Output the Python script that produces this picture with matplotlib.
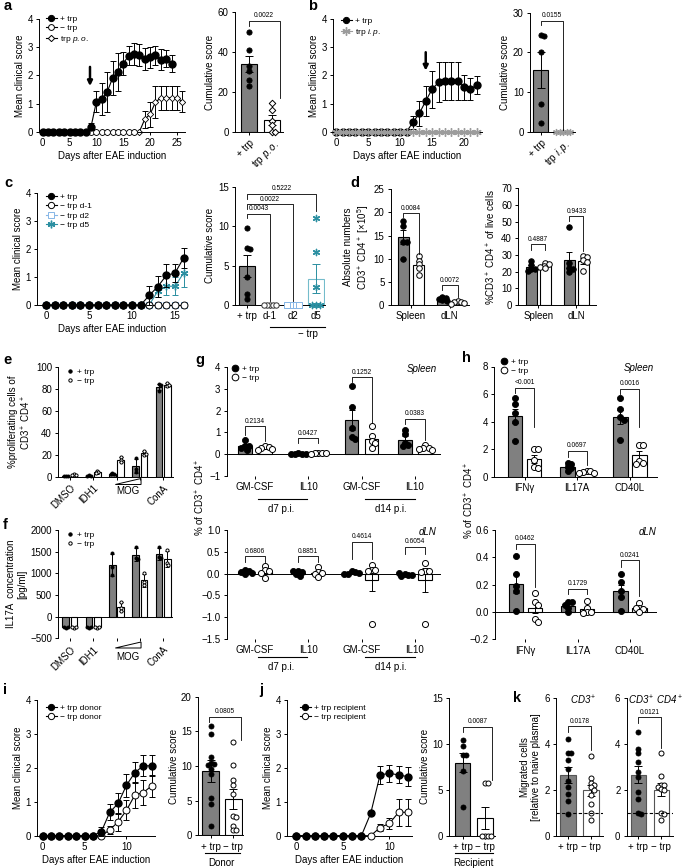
import numpy as np
import matplotlib
matplotlib.use("Agg")
import matplotlib.pyplot as plt
from matplotlib import transforms
from matplotlib.lines import Line2D
from matplotlib.patches import Polygon

plt.rcParams["font.family"] = "Liberation Sans"
plt.rcParams["mathtext.fontset"] = "custom"
plt.rcParams["mathtext.rm"] = "Liberation Sans"
plt.rcParams["mathtext.it"] = "Liberation Sans:italic"
plt.rcParams["mathtext.bf"] = "Liberation Sans:bold"
plt.rcParams["font.size"] = 7
plt.rcParams["axes.linewidth"] = 0.7
plt.rcParams["axes.labelpad"] = 2

GREY = "#808080"
LBLUE = "#86b6e6"
TEAL = "#2b8fa1"
LTEAL = "#74bccb"
SGREY = "#9c9c9c"
ASTER = (6, 2, 0)
MINUS = "\u2212"

# ---------------- data ----------------
# a
a_days = list(range(25))
a_trp = [0] * 9 + [0.18, 1.07, 1.17, 1.41, 1.90, 2.13, 2.42, 2.70, 2.76, 2.72, 2.58, 2.64, 2.71, 2.55, 2.59, 2.41]
a_trp_err = [0] * 9 + [0.12, 0.37, 0.57, 0.70, 0.60, 0.67, 0.42, 0.34, 0.38, 0.39, 0.40, 0.38, 0.33, 0.37, 0.31, 0.30]
a_notrp_days = list(range(18))
a_notrp = [0] * 18
a_po_days = list(range(27))
a_po = [0] * 19 + [0.44, 0.62, 1.05, 1.20, 1.20, 1.20, 1.20, 1.07]
a_po_err = [0] * 19 + [0.30, 0.45, 0.57, 0.42, 0.42, 0.42, 0.42, 0.36]
a_cum_mean = [33.9, 5.75]
a_cum_err = [4.0, 2.4]
a_cum_trp = [50.0, 41.0, 33.2, 30.5, 25.8, 22.8]
a_cum_po = [14.6, 10.9, 5.5, 3.5, 0.0, 0.0]

# b
b_days = list(range(23))
b_trp = [0] * 12 + [0.33, 0.65, 1.09, 1.51, 1.75, 1.80, 1.80, 1.80, 1.57, 1.51, 1.66]
b_trp_err = [0] * 12 + [0.23, 0.44, 0.54, 0.66, 0.71, 0.66, 0.66, 0.66, 0.44, 0.38, 0.32]
b_ip = [0] * 23
b_cum_mean = [15.5, 0.0]
b_cum_err = [4.5, 0.0]
b_cum_trp = [24.4, 24.0, 20.0, 7.1, 2.1]
b_cum_ip = [0, 0, 0, 0, 0]

# c
c_days = list(range(17))
c_trp = [0] * 12 + [0.34, 0.66, 1.06, 1.14, 1.68]
c_trp_err = [0] * 12 + [0.34, 0.36, 0.41, 0.33, 0.36]
c_d1 = [0] * 17
c_d2 = [0] * 17
c_d5 = [0] * 13 + [0.50, 0.67, 0.67, 1.14]
c_d5_err = [0] * 13 + [0.22, 0.33, 0.33, 0.48]
c_cum_labels = ["+ trp", "d-1", "d2", "d5"]
c_cum_mean = [4.94, 0.0, 0.0, 3.33]
c_cum_err = [1.38, 0.0, 0.0, 1.85]
c_cum_trp = [9.7, 7.2, 7.1, 3.5, 1.4, 0.7]
c_cum_d1 = [0, 0, 0, 0, 0]
c_cum_d2 = [0, 0, 0, 0, 0]
c_cum_d5 = [11.0, 6.7, 2.3, 0, 0, 0]

# d
d_groups = ["Spleen", "dLN"]
d_abs_plus_mean = [14.6, 1.3]
d_abs_plus_err = [1.5, 0.2]
d_abs_minus_mean = [8.7, 0.6]
d_abs_minus_err = [0.8, 0.12]
d_abs_plus_pts = [[18.2, 17.1, 13.7, 13.6, 10.0], [1.8, 1.5, 1.3, 1.0, 0.9]]
d_abs_minus_pts = [[10.6, 9.6, 8.9, 8.0, 6.4], [0.9, 0.7, 0.6, 0.4, 0.3]]
d_pct_plus_mean = [22.8, 27.0]
d_pct_plus_err = [1.2, 4.6]
d_pct_minus_mean = [23.6, 26.4]
d_pct_minus_err = [0.6, 1.6]
d_pct_plus_pts = [[26.6, 24.0, 21.6, 21.6, 20.2], [46.6, 25.0, 22.0, 21.6, 20.0]]
d_pct_minus_pts = [[25.2, 24.4, 23.6, 23.0, 22.0], [29.6, 29.0, 27.0, 26.0, 20.6]]

# e
e_groups = ["DMSO", "IDH1", "", "", "ConA"]
e_plus_mean = [0.5, 1.0, 2.7, 9.5, 82.0]
e_plus_err = [0.2, 0.4, 0.8, 6.5, 3.0]
e_minus_mean = [2.0, 4.2, 15.5, 21.5, 84.0]
e_minus_err = [0.5, 1.3, 2.5, 2.0, 1.8]
e_plus_pts = [[0.6, 0.5, 0.3], [1.4, 0.8, 0.8], [3.5, 2.5, 2.1], [17.5, 7.0, 4.0], [78.0, 84.5, 83.5]]
e_minus_pts = [[2.5, 1.8, 1.7], [5.5, 4.0, 3.0], [18.2, 15.0, 13.3], [23.8, 20.0, 20.8], [86.0, 83.0, 83.5]]

# f
f_plus_mean = [-245, -245, 1190, 1425, 1445]
f_plus_err = [12, 12, 255, 150, 135]
f_minus_mean = [-245, -245, 230, 845, 1320]
f_minus_err = [10, 10, 105, 150, 185]
f_plus_pts = [[-255, -245, -238], [-255, -245, -238], [1460, 1155, 955], [1615, 1345, 1320], [1610, 1380, 1350]]
f_minus_pts = [[-255, -247, -240], [-255, -248, -240], [345, 210, 135], [1015, 800, 720], [1535, 1230, 1195]]

# g
g_groups = ["GM-CSF", "IL10", "GM-CSF", "IL10"]
g_spl_plus_mean = [0.38, 0.01, 1.58, 0.66]
g_spl_plus_err = [0.07, 0.01, 0.45, 0.15]
g_spl_minus_mean = [0.28, 0.04, 0.71, 0.28]
g_spl_minus_err = [0.03, 0.01, 0.17, 0.04]
g_spl_plus_pts = [[0.63, 0.35, 0.35, 0.28, 0.20], [0.03, 0.02, 0.01, 0.0, 0.0],
                  [3.12, 2.15, 1.20, 0.78, 0.70], [1.12, 0.92, 0.50, 0.43, 0.35]]
g_spl_minus_pts = [[0.35, 0.32, 0.28, 0.25, 0.20], [0.06, 0.05, 0.04, 0.03, 0.02],
                   [1.28, 0.85, 0.60, 0.50, 0.30], [0.40, 0.30, 0.27, 0.22, 0.20]]
g_dln_plus_mean = [0.04, 0.02, 0.02, -0.02]
g_dln_plus_err = [0.02, 0.02, 0.01, 0.01]
g_dln_minus_mean = [0.04, 0.02, -0.15, -0.15]
g_dln_minus_err = [0.04, 0.04, 0.25, 0.27]
g_dln_plus_pts = [[0.08, 0.05, 0.03, 0.02, -0.02], [0.07, 0.03, 0.0, -0.05, 0.05],
                  [0.05, 0.03, 0.0, 0.02, -0.01], [0.0, -0.03, -0.05, 0.02, -0.04]]
g_dln_minus_pts = [[0.17, 0.08, 0.06, 0.02, -0.09], [0.14, 0.04, 0.02, 0.0, -0.08],
                   [0.19, 0.09, 0.08, 0.06, -1.15], [0.25, 0.06, 0.06, 0.04, -1.15]]

# h
h_groups = ["IFN\u03b3", "IL17A", "CD40L"]
h_spl_plus_mean = [4.40, 0.73, 4.34]
h_spl_plus_err = [0.50, 0.10, 0.50]
h_spl_minus_mean = [1.30, 0.35, 1.54]
h_spl_minus_err = [0.28, 0.04, 0.30]
h_spl_plus_pts = [[5.7, 5.3, 4.6, 4.0, 2.6], [1.0, 0.9, 0.7, 0.6, 0.45], [5.7, 4.9, 4.3, 4.1, 2.7]]
h_spl_minus_pts = [[2.0, 2.0, 1.2, 0.7, 0.6], [0.45, 0.4, 0.35, 0.3, 0.25], [2.32, 2.32, 1.15, 0.98, 0.95]]
h_dln_plus_mean = [0.207, 0.045, 0.155]
h_dln_plus_err = [0.07, 0.013, 0.045]
h_dln_minus_mean = [0.03, 0.02, 0.03]
h_dln_minus_err = [0.04, 0.015, 0.01]
h_dln_plus_pts = [[0.41, 0.28, 0.19, 0.15, 0.01], [0.07, 0.07, 0.05, 0.03, 0.0], [0.28, 0.22, 0.15, 0.11, 0.01]]
h_dln_minus_pts = [[0.14, 0.07, 0.05, -0.05, -0.07], [0.08, 0.03, 0.0, 0.0, -0.01], [0.065, 0.03, 0.02, 0.03, 0.0]]

# i
i_days = list(range(14))
i_plus = [0] * 7 + [0.12, 0.69, 0.95, 1.49, 1.86, 2.06, 2.06]
i_plus_err = [0] * 7 + [0.14, 0.23, 0.32, 0.34, 0.32, 0.31, 0.31]
i_minus = [0] * 8 + [0.17, 0.41, 0.75, 1.20, 1.27, 1.47]
i_minus_err = [0] * 8 + [0.12, 0.27, 0.30, 0.37, 0.36, 0.32]
i_cum_mean = [9.25, 5.3]
i_cum_err = [1.6, 1.45]
i_cum_plus = [15.8, 14.6, 11.3, 10.4, 10.3, 10.2, 9.5, 8.8, 5.4, 4.5, 1.4]
i_cum_minus = [13.4, 10.2, 8.0, 7.3, 6.0, 2.8, 2.7, 1.4, 0.7, 0.7]

# j
j_days = list(range(13))
j_plus = [0] * 8 + [0.66, 1.79, 1.84, 1.79, 1.74]
j_plus_err = [0] * 8 + [0.06, 0.27, 0.25, 0.25, 0.28]
j_minus = [0] * 9 + [0.24, 0.36, 0.69, 0.69]
j_minus_err = [0] * 9 + [0.10, 0.17, 0.40, 0.40]
j_cum_mean = [7.95, 1.92]
j_cum_err = [1.03, 1.21]
j_cum_plus = [10.4, 9.7, 8.8, 8.8, 7.0, 3.1]
j_cum_minus = [5.76, 5.76, 0, 0, 0, 0]

# k
k_cd3_mean = [2.64, 1.97]
k_cd3_err = [0.33, 0.25]
k_cd3_plus = [4.2, 3.6, 3.6, 3.3, 2.9, 2.4, 2.1, 1.8, 1.5, 0.95]
k_cd3_minus = [3.45, 2.5, 2.3, 2.2, 2.1, 2.0, 1.75, 1.4, 1.0, 0.7]
k_cd4_mean = [2.66, 2.0]
k_cd4_err = [0.36, 0.27]
k_cd4_plus = [4.5, 3.75, 3.6, 3.2, 2.75, 2.55, 1.9, 1.6, 0.97, 0.95]
k_cd4_minus = [3.6, 2.6, 2.2, 2.2, 2.1, 2.05, 2.0, 1.0, 0.95, 0.7]

# ---------------- drawing ----------------
W, H = 685, 868
fig = plt.figure(figsize=(W / 100, H / 100), dpi=100)


def fy(ypx):
    return 1 - ypx / H


def add_ax(l, t, r, b, xlim, ylim, bottom=True):
    ax = fig.add_axes([l / W, 1 - b / H, (r - l) / W, (b - t) / H])
    ax.set_xlim(*xlim)
    ax.set_ylim(*ylim)
    ax.spines[["top", "right"]].set_visible(False)
    if not bottom:
        ax.spines["bottom"].set_visible(False)
    ax.tick_params(length=2.5, width=0.7, pad=2, labelsize=7)
    ax.patch.set_visible(False)
    return ax


def series(ax, days, vals, errs, z, color="k", **mk):
    days = np.asarray(days, float)
    vals = np.asarray(vals, float)
    errs = np.asarray(errs, float)
    m = errs > 0
    if m.any():
        ax.errorbar(days[m], vals[m], yerr=errs[m], fmt="none", ecolor=color,
                    elinewidth=0.7, capsize=2.5, capthick=0.7, zorder=z)
    ax.plot(days, vals, color=color, lw=0.8, zorder=z + 0.1, clip_on=False, **mk)


def dots(ax, x0, vals, s, marker="o", fc="k", ec="k", lw=0.6, z=4):
    # simple beeswarm: shift overlapping points sideways
    d = np.sqrt(s) * 100 / 72
    disp = ax.transData.transform(np.column_stack([np.full(len(vals), x0), vals]))
    placed = []
    for px, py in disp:
        cx = px
        for k in [0, 1, -1, 2, -2, 3, -3, 4, -4, 5, -5]:
            cx = px + k * 0.3 * d
            if all((cx - qx) ** 2 + (py - qy) ** 2 >= (0.55 * d) ** 2 for qx, qy in placed):
                break
        placed.append((cx, py))
    pts = ax.transData.inverted().transform(np.array(placed))
    if marker == ASTER:
        ax.scatter(pts[:, 0], pts[:, 1], s=s, marker=marker, c=ec,
                   linewidths=lw, zorder=z, clip_on=False)
    else:
        ax.scatter(pts[:, 0], pts[:, 1], s=s, marker=marker, facecolors=fc, edgecolors=ec,
                   linewidths=lw, zorder=z, clip_on=False)


def bars(ax, xs, means, errs, width, fc, ec="k", lw=0.8, cap=3.0, ecol="k"):
    ax.bar(xs, means, width, color=fc, edgecolor=ec, linewidth=lw, zorder=1)
    e = np.asarray(errs, float)
    xs = np.asarray(xs, float)
    m = np.asarray(means, float)
    k = e > 0
    if k.any():
        ax.errorbar(xs[k], m[k], yerr=e[k], fmt="none", ecolor=ecol, elinewidth=0.7,
                    capsize=cap, capthick=0.7, zorder=3)


def pairs(ax, pm, pe, pp, mm, me, mp, off, width, s, cap=2.0):
    xs = np.arange(len(pm))
    bars(ax, xs - off, pm, pe, width, GREY, cap=cap)
    bars(ax, xs + off, mm, me, width, "white", cap=cap)
    for i in range(len(xs)):
        dots(ax, xs[i] - off, pp[i], s, fc="k", ec="k")
        dots(ax, xs[i] + off, mp[i], s, fc="white", ec="k", lw=0.7)


def bracket(ax, x1, x2, y, y1, y2, label, fs=4.8):
    ax.plot([x1, x1, x2, x2], [y1, y, y, y2], color="k", lw=0.6, clip_on=False, zorder=5)
    ax.annotate(label, ((x1 + x2) / 2, y), xytext=(0, 1.0), textcoords="offset points",
                ha="center", va="bottom", fontsize=fs)


def legend(ax, handles, labels, xpx, ypx, fs=6, hl=1.3):
    ax.legend(handles, labels, loc="upper left", bbox_to_anchor=(xpx / W, fy(ypx)),
              bbox_transform=fig.transFigure, frameon=False, fontsize=fs,
              handlelength=hl, handletextpad=0.4, labelspacing=0.2,
              borderpad=0, borderaxespad=0)


def under_line(ax, x1, x2, ypx):
    tr = transforms.blended_transform_factory(ax.transData, fig.transFigure)
    fig.add_artist(Line2D([x1, x2], [fy(ypx), fy(ypx)], transform=tr, color="k", lw=0.8))


def under_text(ax, x, ypx, s, **kw):
    tr = transforms.blended_transform_factory(ax.transData, fig.transFigure)
    ax.text(x, fy(ypx), s, transform=tr, ha="center", va="center", fontsize=7, **kw)


def wedge(ax, x1, x2, ybot, ytop):
    tr = transforms.blended_transform_factory(ax.transData, fig.transFigure)
    fig.add_artist(Polygon([(x1, fy(ybot)), (x2, fy(ybot)), (x2, fy(ytop))], closed=True,
                           fill=False, edgecolor="k", lw=0.7, transform=tr))


def lh(marker, ms, mfc, mec, line=True, color="k", mew=0.7):
    return Line2D([], [], color=color, lw=0.8 if line else 0, ls="-" if line else "none",
                  marker=marker, ms=ms, mfc=mfc, mec=mec, mew=mew)


def fmt1(v):
    return f"{v:.1f}".replace("-", MINUS)


# ---- a line ----
ax = add_ax(39, 19, 185, 131.7, (-0.7, 26.5), (0, 4))
series(ax, a_po_days, a_po, a_po_err, 2, marker="D", ms=3.2, mfc="white", mec="k", mew=0.6)
series(ax, a_notrp_days, a_notrp, [0] * len(a_notrp), 3, marker="o", ms=4.2, mfc="white", mec="k", mew=0.6)
series(ax, a_days, a_trp, a_trp_err, 4, marker="o", ms=5, mfc="k", mec="k")
ax.set_xticks(range(0, 26, 5))
ax.set_yticks(range(5))
ax.set_xlabel("Days after EAE induction")
ax.set_ylabel("Mean clinical score")
ax.annotate("", xy=(8.8, 1.62), xytext=(8.8, 2.3),
            arrowprops=dict(arrowstyle="-|>", color="k", lw=1.8, mutation_scale=7, shrinkA=0, shrinkB=0))
legend(ax, [lh("o", 4.5, "k", "k"), lh("o", 4.2, "white", "k"), lh("D", 3.2, "white", "k")],
       ["+ trp", MINUS + " trp", "trp $\\it{p.o.}$"], 46, 15)

# ---- a bar ----
ax = add_ax(235, 12.3, 283, 131.7, (-0.59, 1.47), (0, 60))
bars(ax, [0, 1], a_cum_mean, a_cum_err, 0.69, [GREY, "white"])
dots(ax, 0, a_cum_trp, 14)
dots(ax, 1, a_cum_po, 11, marker="D", fc="white", ec="k", lw=0.7)
bracket(ax, 0, 1.33, 55.8, 53.2, 17, "0.0022")
ax.set_yticks([0, 20, 40, 60])
ax.set_xticks([0, 1], ["+ trp", "trp $\\it{p.o.}$"], rotation=45, ha="right", va="top",
              rotation_mode="anchor")
ax.set_ylabel("Cumulative score")

# ---- b line ----
ax = add_ax(333, 19, 482, 131.7, (-0.5, 22.8), (0, 4))
series(ax, b_days, b_trp, b_trp_err, 3, marker="o", ms=5, mfc="k", mec="k")
series(ax, b_days, b_ip, [0] * len(b_ip), 4, color=SGREY, marker=ASTER, ms=6, mec=SGREY, mew=1.0)
ax.set_xticks(range(0, 21, 5))
ax.set_yticks(range(5))
ax.set_xlabel("Days after EAE induction")
ax.set_ylabel("Mean clinical score")
ax.annotate("", xy=(14, 2.17), xytext=(14, 2.82),
            arrowprops=dict(arrowstyle="-|>", color="k", lw=1.8, mutation_scale=7, shrinkA=0, shrinkB=0))
legend(ax, [lh("o", 4.5, "k", "k"), lh(ASTER, 6, SGREY, SGREY, color=SGREY, mew=1.0)],
       ["+ trp", "trp $\\it{i.p.}$"], 341, 17)

# ---- b bar ----
ax = add_ax(530, 12.7, 575, 131.7, (-0.47, 1.53), (0, 30))
bars(ax, [0, 1], b_cum_mean, b_cum_err, 0.69, [GREY, "white"])
dots(ax, 0, b_cum_trp, 14)
dots(ax, 1, b_cum_ip, 18, marker=ASTER, fc=SGREY, ec=SGREY, lw=1.0)
bracket(ax, 0, 1.0, 28, 26.9, 0.4, "0.0155")
ax.set_yticks([0, 10, 20, 30])
ax.set_xticks([0, 1], ["+ trp", "trp $\\it{i.p.}$"], rotation=45, ha="right", va="top",
              rotation_mode="anchor")
ax.set_ylabel("Cumulative score")

# ---- c line ----
ax = add_ax(37, 193, 186.7, 305, (-1.05, 16.36), (0, 4))
series(ax, c_days, c_d2, [0] * len(c_d2), 1, color=LBLUE, marker="s", ms=4.5, mfc="white", mec=LBLUE, mew=0.7)
series(ax, c_days, c_d5, c_d5_err, 2, color=TEAL, marker=ASTER, ms=5.5, mec=TEAL, mew=1.0)
series(ax, c_days, c_d1, [0] * len(c_d1), 3, marker="o", ms=5, mfc="white", mec="k", mew=0.7)
series(ax, c_days, c_trp, c_trp_err, 4, marker="o", ms=5, mfc="k", mec="k")
ax.set_xticks(range(0, 16, 5))
ax.set_yticks(range(5))
ax.set_xlabel("Days after EAE induction")
ax.set_ylabel("Mean clinical score")
legend(ax, [lh("o", 4.5, "k", "k"), lh("o", 4.5, "white", "k"),
            lh("s", 4.2, "white", LBLUE, color=LBLUE), lh(ASTER, 5.5, TEAL, TEAL, color=TEAL, mew=1.0)],
       ["+ trp", MINUS + " trp d-1", MINUS + " trp d2", MINUS + " trp d5"], 46, 193)

# ---- c bar ----
ax = add_ax(235, 186.7, 325, 305, (-0.53, 3.4), (0, 15))
ax.bar([0, 1, 2, 3], c_cum_mean, 0.69, color=[GREY, "white", "white", "white"],
       edgecolor=["k", "k", LBLUE, LTEAL], linewidth=0.8, zorder=1)
ax.errorbar([0], [c_cum_mean[0]], yerr=[c_cum_err[0]], fmt="none",
            ecolor="k", elinewidth=0.7, capsize=3, capthick=0.7, zorder=3)
ax.errorbar([3], [c_cum_mean[3]], yerr=[c_cum_err[3]], fmt="none",
            ecolor=TEAL, elinewidth=0.7, capsize=3, capthick=0.7, zorder=3)
dots(ax, 0, c_cum_trp, 14)
dots(ax, 1, c_cum_d1, 15, fc="white", ec="#333333", lw=0.7)
dots(ax, 2, c_cum_d2, 14, marker="s", fc="white", ec=LBLUE, lw=0.7)
dots(ax, 3, c_cum_d5, 20, marker=ASTER, fc=TEAL, ec=TEAL, lw=1.0)
bracket(ax, 0, 1, 11.6, 11.0, 0.5, "0.0043")
bracket(ax, 0, 2, 12.75, 12.2, 0.5, "0.0022")
bracket(ax, 0, 3, 14.1, 13.5, 11.9, "0.5222")
ax.set_yticks([0, 5, 10, 15])
ax.set_xticks([0, 1, 2, 3], c_cum_labels)
ax.set_ylabel("Cumulative score")
under_line(ax, 1.0, 3.4, 326.7)
under_text(ax, 2.67, 334, MINUS + " trp")

# ---- d abs ----
ax = add_ax(390.7, 189.3, 469, 305, (-0.52, 1.49), (0, 25))
pairs(ax, d_abs_plus_mean, d_abs_plus_err, d_abs_plus_pts, d_abs_minus_mean, d_abs_minus_err,
      d_abs_minus_pts, 0.195, 0.28, 16)
bracket(ax, -0.195, 0.195, 19.9, 19.1, 11.1, "0.0084")
bracket(ax, 0.805, 1.195, 4.3, 3.2, 1.8, "0.0072")
ax.set_yticks(range(0, 26, 5))
ax.set_xticks([0, 1], d_groups)
ax.set_ylabel("Absolute numbers\nCD3$^+$ CD4$^+$ [\u00d710$^5$]")

# ---- d pct ----
ax = add_ax(518.3, 188.3, 596, 305, (-0.52, 1.51), (0, 70))
pairs(ax, d_pct_plus_mean, d_pct_plus_err, d_pct_plus_pts, d_pct_minus_mean, d_pct_minus_err,
      d_pct_minus_pts, 0.183, 0.29, 16)
bracket(ax, -0.183, 0.183, 36.4, 33, 33, "0.4887")
bracket(ax, 0.817, 1.183, 53.4, 50.4, 32.4, "0.9433")
ax.set_yticks(range(0, 71, 10))
ax.set_xticks([0, 1], d_groups)
ax.set_ylabel("%CD3$^+$ CD4$^+$ of live cells")

# ---- e ----
ax = add_ax(58.3, 367.3, 173.3, 476.7, (-0.49, 4.43), (0, 100))
pairs(ax, e_plus_mean, e_plus_err, e_plus_pts, e_minus_mean, e_minus_err, e_minus_pts,
      0.175, 0.285, 5, cap=1.5)
ax.set_yticks(range(0, 101, 20))
ax.set_xticks(range(5), e_groups, rotation=45, ha="right", va="top", rotation_mode="anchor")
ax.set_ylabel("%proliferating cells of\nCD3$^+$ CD4$^+$")
wedge(ax, 1.95, 3.05, 484.5, 478.5)
under_text(ax, 2.5, 491, "MOG")
legend(ax, [lh("o", 2.4, "k", "k", line=False), lh("o", 2.4, "white", "k", line=False)],
       ["+ trp", MINUS + " trp"], 67, 368, hl=0.8)

# ---- f ----
ax = add_ax(58.3, 530, 173.3, 638.3, (-0.49, 4.43), (-500, 2000), bottom=False)
ax.axhline(0, color="k", lw=0.7, zorder=2)
pairs(ax, f_plus_mean, f_plus_err, f_plus_pts, f_minus_mean, f_minus_err, f_minus_pts,
      0.175, 0.285, 5, cap=1.5)
f_ticks = list(range(-500, 2001, 500))
ax.set_yticks(f_ticks, [str(v).replace("-", MINUS) for v in f_ticks])
ax.set_xticks(range(5), e_groups, rotation=45, ha="right", va="top", rotation_mode="anchor")
ax.set_ylabel("IL17A  concentration\n[pg/ml]")
wedge(ax, 1.95, 3.05, 648, 642)
under_text(ax, 2.5, 657, "MOG")
legend(ax, [lh("o", 2.4, "k", "k", line=False), lh("o", 2.4, "white", "k", line=False)],
       ["+ trp", MINUS + " trp"], 67, 531, hl=0.8)

# ---- g spleen ----
ax = add_ax(226.7, 367.3, 441, 475.7, (-0.53, 3.49), (-1, 4), bottom=False)
ax.axhline(0, color="k", lw=0.7, zorder=2)
pairs(ax, g_spl_plus_mean, g_spl_plus_err, g_spl_plus_pts, g_spl_minus_mean, g_spl_minus_err,
      g_spl_minus_pts, 0.188, 0.257, 19)
for gi, top, y1, y2, lab in [(0, 1.28, 0.88, 0.58, "0.2134"), (1, 0.74, 0.52, 0.52, "0.0427"),
                             (2, 3.53, 3.32, 1.43, "0.1252"), (3, 1.63, 1.38, 0.66, "0.0383")]:
    bracket(ax, gi - 0.188, gi + 0.188, top, y1, y2, lab)
g_sticks = list(range(-1, 5))
ax.set_yticks(g_sticks, [str(v).replace("-", MINUS) for v in g_sticks])
ax.set_xticks(range(4), g_groups)
under_line(ax, 0.05, 0.97, 499.3)
under_line(ax, 2.07, 3.0, 499.3)
under_text(ax, 0.5, 509, "d7 p.i.")
under_text(ax, 2.55, 509, "d14 p.i.")
fig.text(421.7 / W, fy(369), "Spleen", style="italic", ha="center", va="center", fontsize=7)
legend(ax, [lh("o", 4.8, "k", "k", line=False), lh("o", 4.8, "white", "k", line=False)],
       ["+ trp", MINUS + " trp"], 232, 365, hl=0.8)

# ---- g dLN ----
ax = add_ax(226.7, 530, 441, 639, (-0.53, 3.49), (-1.5, 1.0), bottom=False)
ax.axhline(0, color="k", lw=0.7, zorder=2)
pairs(ax, g_dln_plus_mean, g_dln_plus_err, g_dln_plus_pts, g_dln_minus_mean, g_dln_minus_err,
      g_dln_minus_pts, 0.188, 0.257, 19)
for gi, top, y1, y2, lab in [(0, 0.40, 0.27, 0.27, "0.6806"), (1, 0.40, 0.27, 0.27, "0.8851"),
                             (2, 0.73, 0.34, 0.34, "0.4614"), (3, 0.62, 0.45, 0.45, "0.6054")]:
    bracket(ax, gi - 0.188, gi + 0.188, top, y1, y2, lab)
g_ticks = [-1.5, -1.0, -0.5, 0.0, 0.5, 1.0]
ax.set_yticks(g_ticks, [fmt1(v) for v in g_ticks])
ax.set_xticks(range(4), g_groups)
under_line(ax, 0.05, 0.97, 657.3)
under_line(ax, 2.07, 3.0, 657.3)
under_text(ax, 0.5, 667.3, "d7 p.i.")
under_text(ax, 2.55, 667.3, "d14 p.i.")
fig.text(428 / W, fy(531.7), "dLN", style="italic", ha="center", va="center", fontsize=7)
fig.text(200 / W, fy(497), "% of CD3$^+$ CD4$^+$", rotation=90, ha="center", va="center", fontsize=7)

# ---- h spleen ----
ax = add_ax(494, 366.5, 656.7, 476.7, (-0.58, 2.51), (0, 8))
pairs(ax, h_spl_plus_mean, h_spl_plus_err, h_spl_plus_pts, h_spl_minus_mean, h_spl_minus_err,
      h_spl_minus_pts, 0.18, 0.275, 19)
for gi, top, y1, y2, lab in [(0, 6.46, 6.1, 3.58, "<0.001"), (1, 1.88, 1.46, 0.85, "0.0697"),
                             (2, 6.4, 5.98, 3.58, "0.0016")]:
    bracket(ax, gi - 0.18, gi + 0.18, top, y1, y2, lab)
ax.set_yticks(range(0, 9, 2))
ax.set_xticks(range(3), h_groups)
fig.text(638.3 / W, fy(368.3), "Spleen", style="italic", ha="center", va="center", fontsize=7)
legend(ax, [lh("o", 4.8, "k", "k", line=False), lh("o", 4.8, "white", "k", line=False)],
       ["+ trp", MINUS + " trp"], 501, 358, hl=0.8)

# ---- h dLN ----
ax = add_ax(495, 530, 656.7, 639.3, (-0.58, 2.51), (-0.2, 0.6), bottom=False)
ax.axhline(0, color="k", lw=0.7, zorder=2)
pairs(ax, h_dln_plus_mean, h_dln_plus_err, h_dln_plus_pts, h_dln_minus_mean, h_dln_minus_err,
      h_dln_minus_pts, 0.18, 0.275, 19)
for gi, top, y1, y2, lab in [(0, 0.50, 0.46, 0.18, "0.0462"), (1, 0.17, 0.13, 0.13, "0.1729"),
                             (2, 0.38, 0.33, 0.12, "0.0241")]:
    bracket(ax, gi - 0.18, gi + 0.18, top, y1, y2, lab)
h_ticks = [-0.2, 0.0, 0.2, 0.4, 0.6]
ax.set_yticks(h_ticks, [fmt1(v) for v in h_ticks])
ax.set_xticks(range(3), h_groups)
fig.text(648 / W, fy(531.7), "dLN", style="italic", ha="center", va="center", fontsize=7)
fig.text(469 / W, fy(500), "% of CD3$^+$ CD4$^+$", rotation=90, ha="center", va="center", fontsize=7)

# ---- i line ----
ax = add_ax(37.3, 700, 155, 835.7, (-0.64, 13.4), (0, 4))
series(ax, i_days, i_minus, i_minus_err, 3, marker="o", ms=5, mfc="white", mec="k", mew=0.7)
series(ax, i_days, i_plus, i_plus_err, 4, marker="o", ms=5, mfc="k", mec="k")
ax.set_xticks([0, 5, 10])
ax.set_yticks(range(5))
ax.set_xlabel("Days after EAE induction")
ax.set_ylabel("Mean clinical score")
legend(ax, [lh("o", 4.5, "k", "k"), lh("o", 4.5, "white", "k")],
       ["+ trp donor", MINUS + " trp donor"], 46, 704)

# ---- i bar ----
ax = add_ax(198, 696.7, 243.3, 835.3, (-0.58, 1.45), (0, 20))
bars(ax, [0, 1], i_cum_mean, i_cum_err, 0.76, [GREY, "white"])
dots(ax, 0, i_cum_plus, 13)
dots(ax, 1, i_cum_minus, 13, fc="white", ec="k", lw=0.7)
bracket(ax, -0.1, 1.36, 17.1, 16.3, 13.8, "0.0805")
ax.set_yticks(range(0, 21, 5))
ax.set_xticks([0, 1], ["+ trp", MINUS + " trp"])
ax.set_ylabel("Cumulative score", labelpad=1.5)
under_line(ax, -0.27, 1.3, 853.3)
under_text(ax, 0.48, 862.5, "Donor")

# ---- j line ----
ax = add_ax(287.3, 700, 411.7, 835.7, (-0.96, 12.4), (0, 4))
series(ax, j_days, j_minus, j_minus_err, 3, marker="o", ms=5, mfc="white", mec="k", mew=0.7)
series(ax, j_days, j_plus, j_plus_err, 4, marker="o", ms=5, mfc="k", mec="k")
ax.set_xticks([0, 5, 10])
ax.set_yticks(range(5))
ax.set_xlabel("Days after EAE induction")
ax.set_ylabel("Mean clinical score")
legend(ax, [lh("o", 4.5, "k", "k"), lh("o", 4.5, "white", "k")],
       ["+ trp recipient", MINUS + " trp recipient"], 300, 704)

# ---- j bar ----
ax = add_ax(449, 697.7, 495, 835.7, (-0.61, 1.46), (0, 15))
bars(ax, [0, 1], j_cum_mean, j_cum_err, 0.7, [GREY, "white"])
dots(ax, 0, j_cum_plus, 13)
dots(ax, 1, j_cum_minus, 13, fc="white", ec="k", lw=0.7)
bracket(ax, 0, 1.33, 11.85, 11.3, 6.05, "0.0087")
ax.set_yticks(range(0, 16, 5))
ax.set_xticks([0, 1], ["+ trp", MINUS + " trp"])
ax.set_ylabel("Cumulative score", labelpad=1.5)
under_line(ax, -0.34, 1.36, 853.3)
under_text(ax, 0.49, 862.5, "Recipient")

# ---- k ----
for l, r, mean, err, pp, mp, br, ttl, tx in [
        (556, 603, k_cd3_mean, k_cd3_err, k_cd3_plus, k_cd3_minus, (4.75, 4.53, 3.73, "0.0178"),
         "CD3$^+$", 583),
        (626.7, 673, k_cd4_mean, k_cd4_err, k_cd4_plus, k_cd4_minus, (5.14, 4.89, 3.8, "0.0121"),
         "CD3$^+$ CD4$^+$", 656)]:
    ax = add_ax(l, 697.7, r, 835.7, (-0.5, 1.5), (0, 6))
    bars(ax, [0, 1], mean, err, 0.67, [GREY, "white"], ec="#555555")
    dots(ax, 0, pp, 13)
    dots(ax, 1, mp, 13, fc="white", ec="k", lw=0.7)
    ax.axhline(1, color="k", lw=0.8, ls=(0, (3, 2)), zorder=5)
    bracket(ax, 0, 1, br[0], br[1], br[2], br[3])
    ax.set_yticks([0, 2, 4, 6])
    ax.set_xticks([0, 1], ["+ trp", MINUS + " trp"])
    fig.text(tx / W, fy(700), ttl, style="italic", ha="center", va="center", fontsize=7)
    if l < 600:
        ax.set_ylabel("Migrated cells\n[relative to naive plasma]")

# ---- panel letters ----
for s, x, y in [("a", 4, 6), ("b", 308, 6), ("c", 4, 183), ("d", 350, 183), ("e", 3, 360),
                ("g", 195, 360), ("h", 462, 358), ("f", 3, 525), ("i", 3, 690), ("j", 259, 690),
                ("k", 513, 698)]:
    fig.text(x / W, fy(y), s, fontsize=10.5, fontweight="bold", ha="left", va="center")

fig.savefig("out.png", dpi=100)
